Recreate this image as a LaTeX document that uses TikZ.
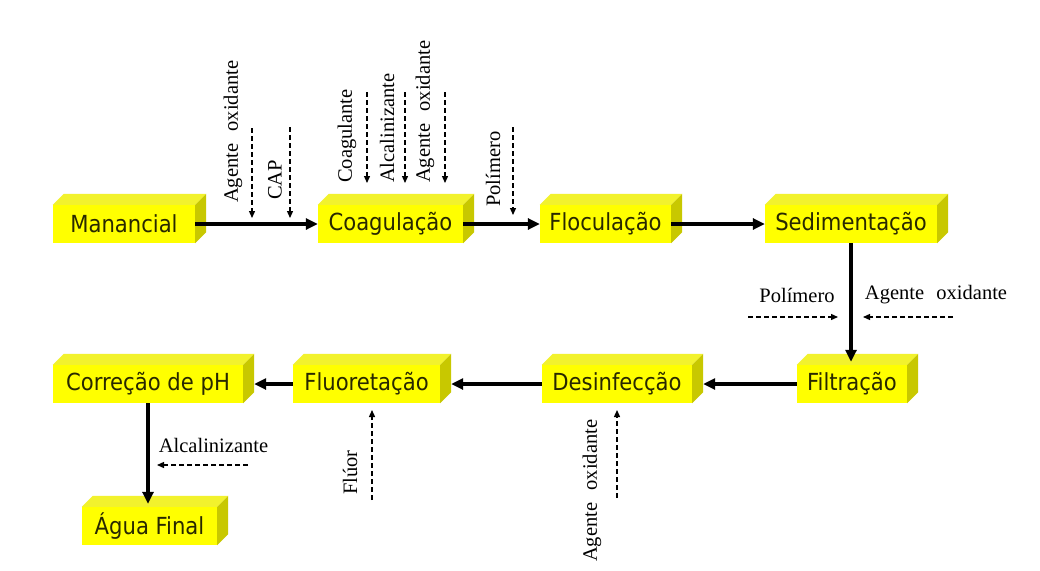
\documentclass[tikz,border=0pt]{standalone}
\usepackage{fontspec}
\setmainfont{Liberation Serif}
\newfontfamily\boxfont{DejaVu Sans Condensed}
\usetikzlibrary{arrows.meta,calc}
\definecolor{frontc}{RGB}{255,255,0}
\definecolor{topc}{RGB}{242,242,45}
\definecolor{sidec}{RGB}{200,200,0}
\definecolor{boxtext}{RGB}{40,40,0}
\begin{document}
\begin{tikzpicture}[x=1pt,y=-1pt,
  stage/.style={fill=frontc, draw=none, inner sep=0pt, minimum height=38pt,
    font=\boxfont\fontsize{23.5}{26}\selectfont, text=boxtext},
  flow/.style={line width=3.2pt, -{Triangle[length=12pt,width=11pt]}},
  feed/.style={line width=1.3pt, dash pattern=on 5pt off 3pt, -{Triangle[length=7pt,width=6pt]}},
  lab/.style={font=\fontsize{20.5}{24}\selectfont, inner sep=0pt},
  vlab/.style={lab, rotate=90, anchor=west}]
\fill[white] (0,0) rectangle (1040,570);
\useasboundingbox (0,0) rectangle (1040,570);

% stages
\node[stage, minimum width=142pt] (man) at (124,224) {Manancial};
\node[stage, minimum width=145pt] (coa) at (390.5,224) {Coagulação};
\node[stage, minimum width=131pt] (flo) at (605.5,224) {Floculação};
\node[stage, minimum width=172pt] (sed) at (851,224) {Sedimentação};
\node[stage, minimum width=110pt] (fil) at (852,384) {Filtração};
\node[stage, minimum width=150pt] (des) at (617,384) {Desinfecção};
\node[stage, minimum width=147pt] (flu) at (366.5,384) {Fluoretação};
\node[stage, minimum width=190pt] (cor) at (148,384) {Correção de pH};
\node[stage, minimum width=135pt] (agu) at (149.5,526) {Água Final};

% 3D faces
\foreach \n in {man,coa,flo,sed,fil,des,flu,cor,agu}{
  \fill[topc] (\n.north west) -- ++(11,-11) -- ([shift={(11,-11)}]\n.north east) -- (\n.north east) -- cycle;
  \fill[sidec] (\n.north east) -- ++(11,-11) -- ([shift={(11,-11)}]\n.south east) -- (\n.south east) -- cycle;
}

% main flow
\draw[flow] (man.east) -- (coa.west);
\draw[flow] (coa.east) -- (flo.west);
\draw[flow] (flo.east) -- (sed.west);
\draw[flow] (sed.south) -- ([yshift=3pt]sed.south |- fil.north);
\draw[flow] (fil.west) -- ([xshift=11pt]des.east);
\draw[flow] (des.west) -- ([xshift=11pt]flu.east);
\draw[flow] (flu.west) -- ([xshift=11pt]cor.east);
\draw[flow] (cor.south) -- ([yshift=3pt]cor.south |- agu.north);

% feed coordinates
\coordinate (a1s) at (252,128); \coordinate (a1e) at (252,218);
\coordinate (a2s) at (290,127); \coordinate (a2e) at (290,218);
\coordinate (a3s) at (367,92);  \coordinate (a3e) at (367,183);
\coordinate (a4s) at (405,92);  \coordinate (a4e) at (405,183);
\coordinate (a5s) at (445,92);  \coordinate (a5e) at (445,183);
\coordinate (a6s) at (513,127); \coordinate (a6e) at (513,215);
\coordinate (a7s) at (748,317); \coordinate (a7e) at (838,317);
\coordinate (a8s) at (953,317); \coordinate (a8e) at (863,317);
\coordinate (a9s) at (248,465); \coordinate (a9e) at (157,465);
\coordinate (a10s) at (372,500); \coordinate (a10e) at (372,410);
\coordinate (a11s) at (617,498); \coordinate (a11e) at (617,410);

\foreach \i in {1,...,11}{\draw[feed] (a\i s) -- (a\i e);}

% labels
\node[vlab] (l1) at (233,203) {Agente\hspace{0.6em}oxidante};
\node[vlab] (l2) at (275,200) {CAP};
\node[vlab] (l3) at (347,183) {Coagulante};
\node[vlab] (l4) at (387,183) {Alcalinizante};
\node[vlab] (l5) at (425,183) {Agente\hspace{0.6em}oxidante};
\node[vlab] (l6) at (493,207) {Polímero};
\node[lab] (l7) at (797,295) {Polímero};
\node[lab] (l8) at (936,295) {Agente\hspace{0.6em}oxidante};
\node[lab] (l9) at (213.5,445) {Alcalinizante};
\node[vlab] (l10) at (350,495) {Flúor};
\node[vlab] (l11) at (592,562) {Agente\hspace{0.6em}oxidante};
\end{tikzpicture}
\end{document}
